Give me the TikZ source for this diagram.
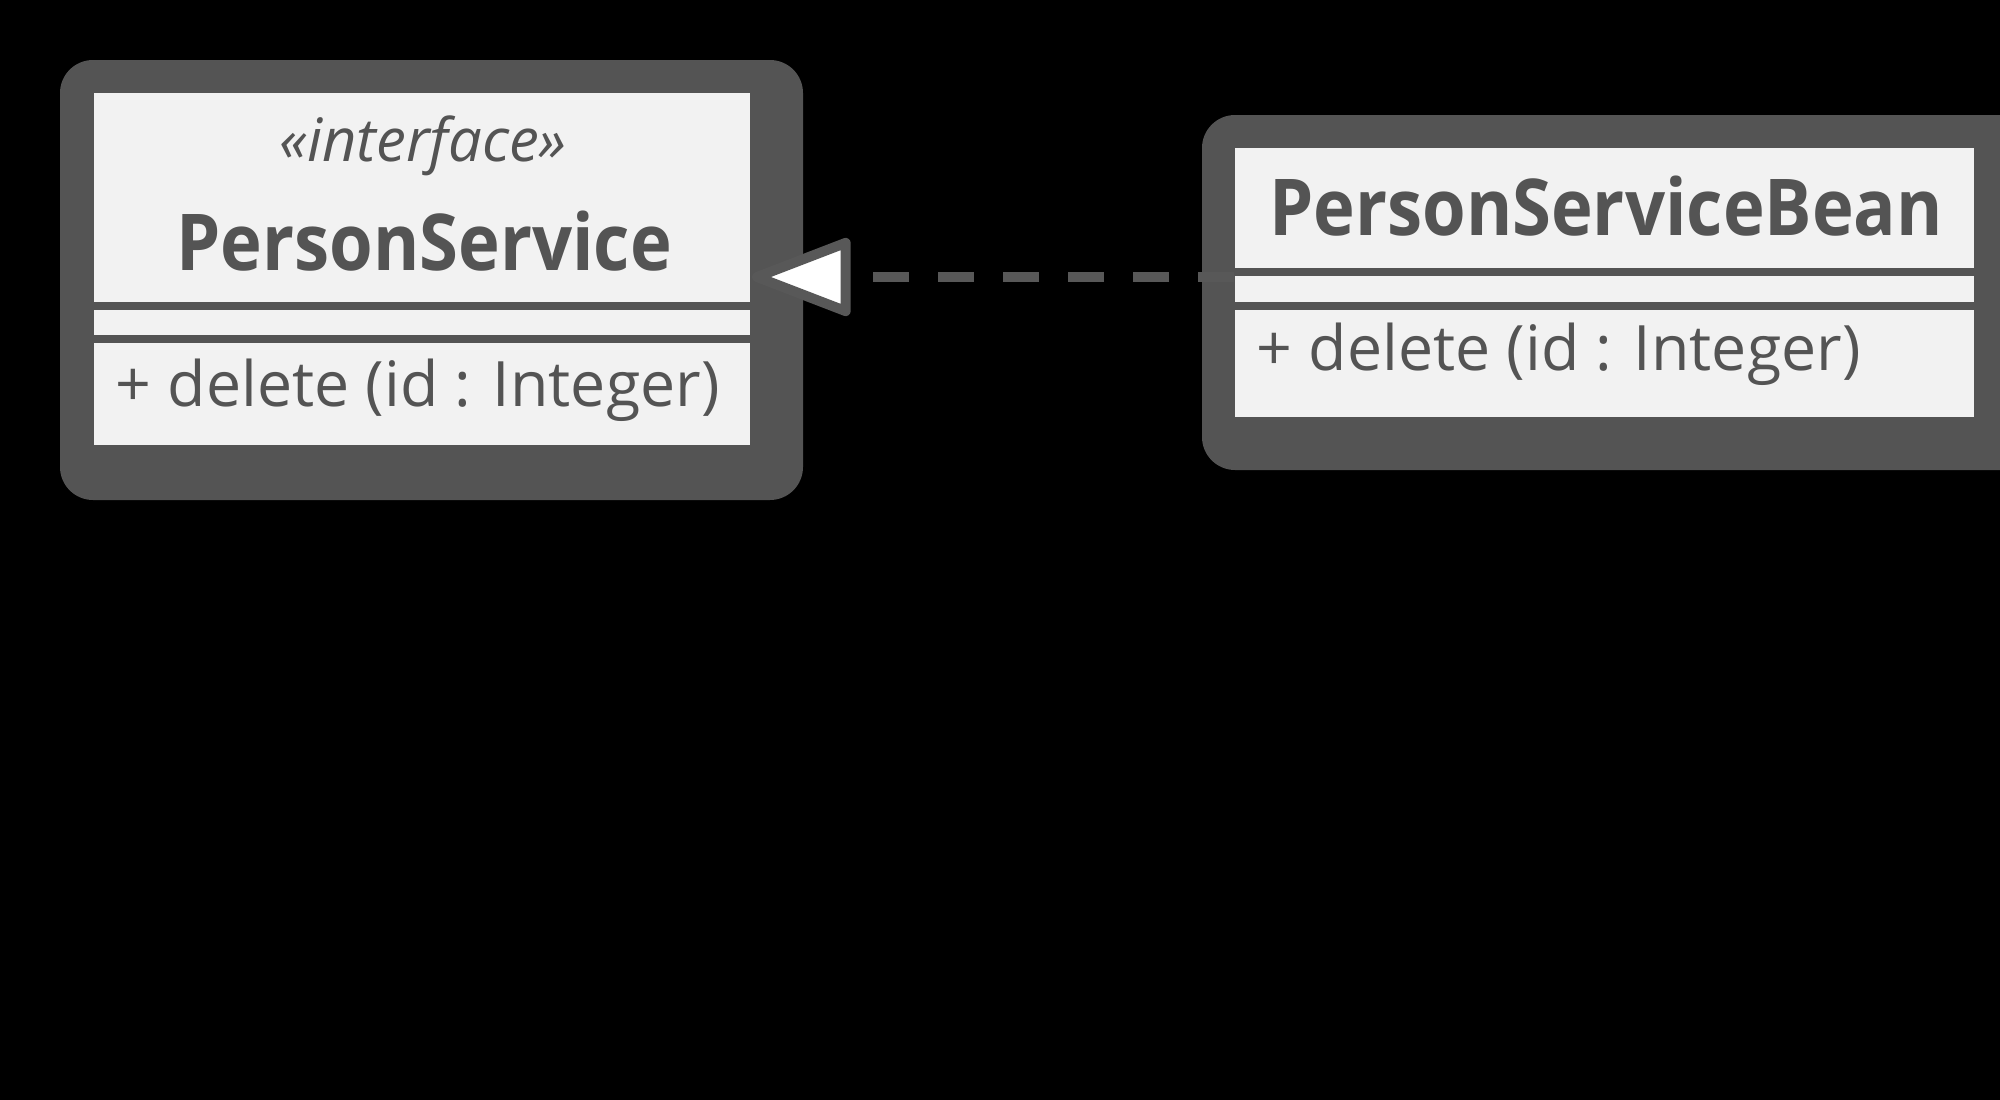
\documentclass[tikz,border=0pt]{standalone}
\usepackage{fontspec}
\setmainfont{Open Sans}
\newfontfamily\classfont{Open Sans}[FakeStretch=0.9]
\usetikzlibrary{arrows.meta,positioning,calc}
\definecolor{umlgray}{HTML}{545454}
\definecolor{umlfill}{HTML}{F2F2F2}
\definecolor{dashgray}{HTML}{585858}

\begin{document}
\begin{tikzpicture}[x=0.01cm, y=-0.01cm,
    frame/.style={fill=umlgray, rounded corners=0.33cm},
    classbox/.style={fill=umlfill, inner sep=0pt},
    divider/.style={umlgray, line width=0.08cm},
    label/.style={text=umlgray, inner sep=0pt, anchor=base},
    title/.style={label, font=\classfont\bfseries\fontsize{22.3}{26}\selectfont},
    member/.style={label, anchor=base west, font=\fontsize{17.8}{21}\selectfont},
    realizes/.style={dashgray, line width=0.1cm, dash pattern=on 0.36cm off 0.29cm,
        -{Triangle[length=1.08cm, width=0.8cm, fill=white, round]}}]

        % background
        \fill[black] (0,0) rectangle (2000,1100);
        \useasboundingbox (0,0) rectangle (2000,1100);

        % PersonService
        \fill[frame] (60,60) rectangle (803,500);
        \node[classbox, minimum width=6.56cm, minimum height=3.52cm] (service) at (422,269) {};
        \draw[divider] (service.west |- 0,306) -- (service.east |- 0,306);
        \draw[divider] (service.west |- 0,339) -- (service.east |- 0,339);
        \node[label, font=\itshape\fontsize{17}{20}\selectfont] (serviceStereo) at (423,161) {«interface»};
        \node[title] (serviceName) at (424,270) {PersonService};
        \node[member] (serviceOp) at (115,406) {+ delete (id : Integer)};

        % PersonServiceBean
        \fill[frame] (1202,115) rectangle (2040,470);
        \node[classbox, minimum width=7.39cm, minimum height=2.69cm] (bean) at (1604.5,282.5) {};
        \draw[divider] (bean.west |- 0,272) -- (bean.east |- 0,272);
        \draw[divider] (bean.west |- 0,306) -- (bean.east |- 0,306);
        \node[title] (beanName) at (1606,235) {PersonServiceBean};
        \node[member] (beanOp) at (1256,370) {+ delete (id : Integer)};

        % Arrows
        \coordinate (tip) at (752,277);
        \draw[realizes] (bean.west |- tip) -- (tip);

    \end{tikzpicture}
\end{document}
